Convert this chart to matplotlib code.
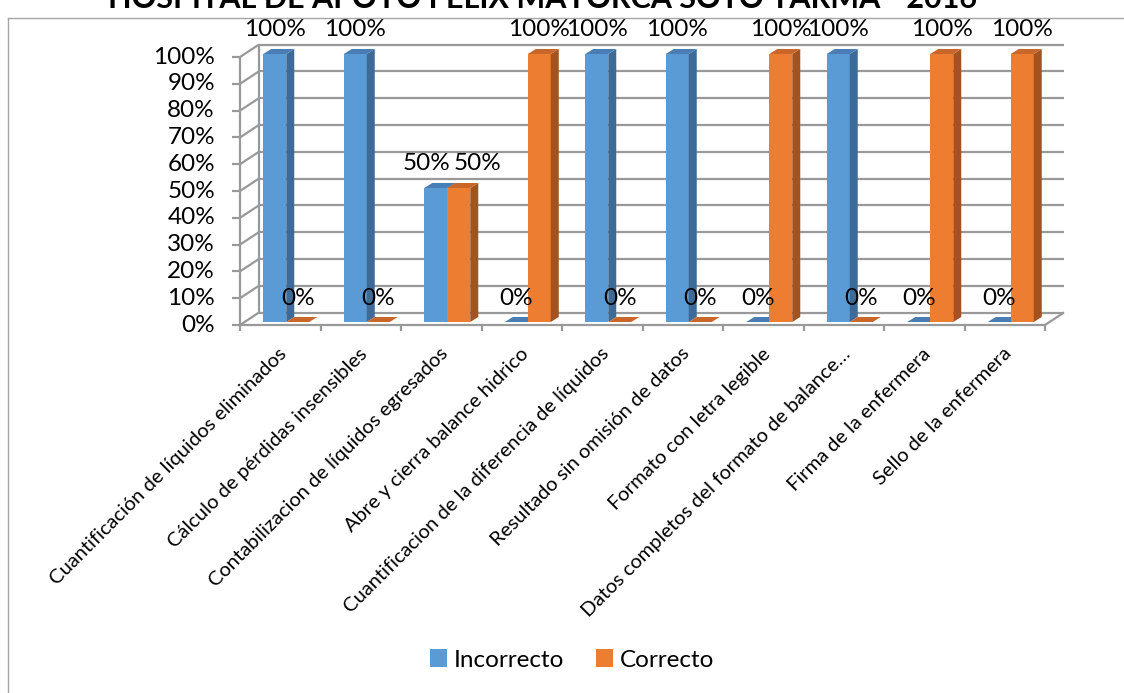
import matplotlib
matplotlib.use("Agg")
import matplotlib.pyplot as plt
from matplotlib.patches import Polygon, Patch
from matplotlib.lines import Line2D

# ---- data ---------------------------------------------------------------
categories = [
    "Cuantificación de líquidos eliminados",
    "Cálculo de pérdidas insensibles",
    "Contabilizacion de líquidos egresados",
    "Abre y cierra balance hidrico",
    "Cuantificacion de la diferencia de líquidos",
    "Resultado sin omisión de datos",
    "Formato con letra legible",
    "Datos completos del formato de balance…",
    "Firma de la enfermera",
    "Sello de la enfermera",
]
incorrecto = [100, 100, 50, 0, 100, 100, 0, 100, 0, 0]
correcto = [0, 0, 50, 100, 0, 0, 100, 0, 100, 100]
series_names = ["Incorrecto", "Correcto"]
y_ticks = [0, 10, 20, 30, 40, 50, 60, 70, 80, 90, 100]
title = "HOSPITAL DE APOYO FELIX MAYORCA SOTO TARMA - 2016"

# ---- style --------------------------------------------------------------
plt.rcParams["font.family"] = ["Lato", "DejaVu Sans"]
face_colors = [
    # front, side, top
    ("#5B9BD5", "#3D6A96", "#4A7DB3"),
    ("#ED7D31", "#A3531F", "#C9672A"),
]
grid_color = "#999999"
text_color = "#000000"
label_size = 17.5

W, H = 1124, 693
fig = plt.figure(figsize=(W / 100, H / 100), dpi=100)
fig.patch.set_facecolor("white")

# front plane of the 3D box, in pixels
px0, px1 = 240, 1045
py0, py1 = 325, 57
ax = fig.add_axes([px0 / W, 1 - py0 / H, (px1 - px0) / W, (py0 - py1) / H])
n = len(categories)
ax.set_xlim(0, n)
ax.set_ylim(0, 100)
ax.axis("off")

sx = (px1 - px0) / n      # pixels per category
sy = (py0 - py1) / 100.0  # pixels per percent


def off(dx, dy):
    """pixel offset (dy up) -> data offset"""
    return dx / sx, dy / sy


line_kw = dict(color=grid_color, lw=1.6, clip_on=False, solid_capstyle="butt")

# walls: back gridlines, side-wall diagonals
DX, DY = off(19, 12.5)
for t in y_ticks:
    ax.plot([DX, n + DX], [t + DY, t + DY], zorder=1, **line_kw)
    ax.plot([0, DX], [t, t + DY], zorder=1, **line_kw)
ax.plot([DX, DX], [DY, 100 + DY], zorder=1, **line_kw)

# front axes, floor edge and ticks
ax.plot([0, 0], [0, 100], zorder=1, **line_kw)
ax.plot([0, n], [0, 0], zorder=1, **line_kw)
ax.plot([n, n + DX], [0, DY], zorder=1, **line_kw)
tx, _ = off(8, 0)
for t in y_ticks:
    ax.plot([-tx, 0], [t, t], zorder=1, **line_kw)
_, ty = off(0, 6)
for k in range(n + 1):
    ax.plot([k, k], [0, -ty], zorder=1, **line_kw)

# y tick labels
lx, _ = off(25, 0)
for t in y_ticks:
    ax.text(-lx, t, f"{t}%", ha="right", va="center", fontsize=label_size,
            color=text_color)

# 3D columns
bw = 23 / sx
gap = (1 - 2 * bw) / 2
BX, BY = off(6, 3)
PX, PY = off(8, 5)
_, lab_up = off(0, 24)
spread, _ = off(16, 0)   # pushes apart equal-height labels of one category

all_vals = [incorrecto, correcto]
for s, vals in enumerate(all_vals):
    front, side, top = face_colors[s]
    xs = [i + gap + s * bw + BX for i in range(n)]
    ax.bar(xs, vals, width=bw, bottom=BY, align="edge", color=front,
           edgecolor="none", zorder=3 + s, clip_on=False)
    for i, (x, v) in enumerate(zip(xs, vals)):
        xr = x + bw
        ax.add_patch(Polygon([(xr, BY), (xr, v + BY), (xr + PX, v + BY + PY),
                              (xr + PX, BY + PY)], closed=True, fc=side,
                             ec="none", zorder=3 + s, clip_on=False))
        ax.add_patch(Polygon([(x, v + BY), (xr, v + BY),
                              (xr + PX, v + BY + PY), (x + PX, v + BY + PY)],
                             closed=True, fc=top, ec="none", zorder=3 + s,
                             clip_on=False))
        other = all_vals[1 - s][i]
        shift = 0.0
        if other == v:
            shift = -spread * 0.6 if s == 0 else spread * 1.2
        ax.text(x + bw / 2 + shift, v + BY + lab_up, f"{v}%", ha="center",
                va="center", fontsize=label_size, color=text_color, zorder=10)

# category labels
cx, cy = off(4, 26)
for i, cat in enumerate(categories):
    ax.text(i + 0.5 + cx, -cy, cat, rotation=45, ha="right", va="center",
            rotation_mode="anchor", fontsize=14.5, color=text_color)

# legend
handles = [Patch(facecolor=face_colors[s][0], edgecolor="none",
                 label=series_names[s]) for s in range(2)]
fig.legend(handles=handles, loc="center", ncol=2, frameon=False,
           bbox_to_anchor=(572 / W, 1 - 660 / H), fontsize=17.5,
           handlelength=0.7, handleheight=0.7, handletextpad=0.3,
           columnspacing=1.3)

# chart frame and (clipped) title
fig.add_artist(Line2D([8 / W, 8 / W], [0, 1 - 18 / H], color="#A6A6A6",
                      lw=1, transform=fig.transFigure))
fig.add_artist(Line2D([8 / W, 1], [1 - 18 / H, 1 - 18 / H], color="#A6A6A6",
                      lw=1, transform=fig.transFigure))
fig.text(543 / W, 1 - 8 / H, title, ha="center", va="baseline",
         fontsize=22, fontweight="bold", color=text_color)

fig.savefig("out.png", dpi=100)
